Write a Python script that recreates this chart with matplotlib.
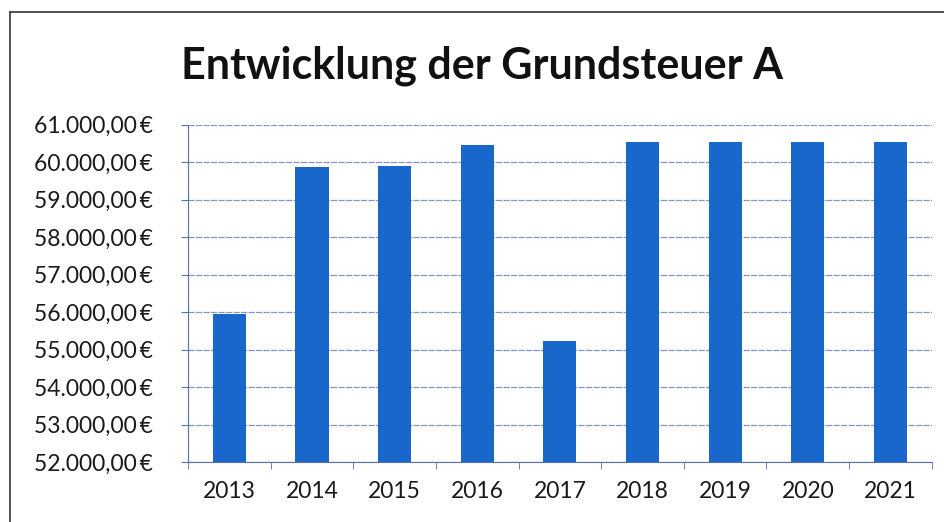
import matplotlib
matplotlib.use("Agg")
import matplotlib.pyplot as plt
from matplotlib.lines import Line2D
from matplotlib.ticker import FuncFormatter, MultipleLocator

years = ["2013", "2014", "2015", "2016", "2017", "2018", "2019", "2020", "2021"]
steuer = [55950, 59860, 59900, 60450, 55240, 60540, 60540, 60540, 60540]

plt.rcParams['font.family'] = ['Lato', 'DejaVu Sans']

def euro(v, pos):
    s = f"{v:,.2f}".replace(",", "X").replace(".", ",").replace("X", ".")
    return s + "\u2009€"

fig = plt.figure(figsize=(9.45, 5.22), dpi=100)
ax = fig.add_axes([0.199, 0.115, 0.787, 0.646])

x = range(len(years))
ax.bar(x, steuer, width=0.40, color='#1a67cc', zorder=3)

ax.set_ylim(52000, 61000)
ax.set_xlim(-0.5, len(years) - 0.5)
ax.yaxis.set_major_locator(MultipleLocator(1000))
ax.yaxis.set_major_formatter(FuncFormatter(euro))
ax.grid(axis='y', color='#8596c4', linewidth=0.9, linestyle=(0, (5, 1)), zorder=0)

ax.set_xticks(list(x))
ax.set_xticklabels(years)
ax.set_xticks([i + 0.5 for i in range(-1, len(years))], minor=True)
ax.tick_params(axis='x', which='major', length=0, labelsize=16.5, pad=14,
               labelcolor='#1a1a1a')
ax.tick_params(axis='x', which='minor', length=5, color='#5a6fa8', direction='out')
ax.tick_params(axis='y', length=5, color='#5a6fa8', labelsize=16.5, pad=20,
               labelcolor='#1a1a1a')

for side in ['top', 'right']:
    ax.spines[side].set_visible(False)
ax.spines['left'].set_color('#5a6fa8')
ax.spines['bottom'].set_color('#5a6fa8')
ax.spines['left'].set_linestyle((0, (3, 1)))

fig.text(0.51, 0.875, "Entwicklung der Grundsteuer A", ha='center', va='center',
         fontsize=31, fontweight='bold', color='#111111')

# outer frame of the chart object
fig.add_artist(Line2D([0.011, 0.011], [0.0, 0.977], color='#333333', linewidth=1.2))
fig.add_artist(Line2D([0.011, 1.0], [0.977, 0.977], color='#333333', linewidth=1.2))

fig.savefig("out.png", dpi=100)
